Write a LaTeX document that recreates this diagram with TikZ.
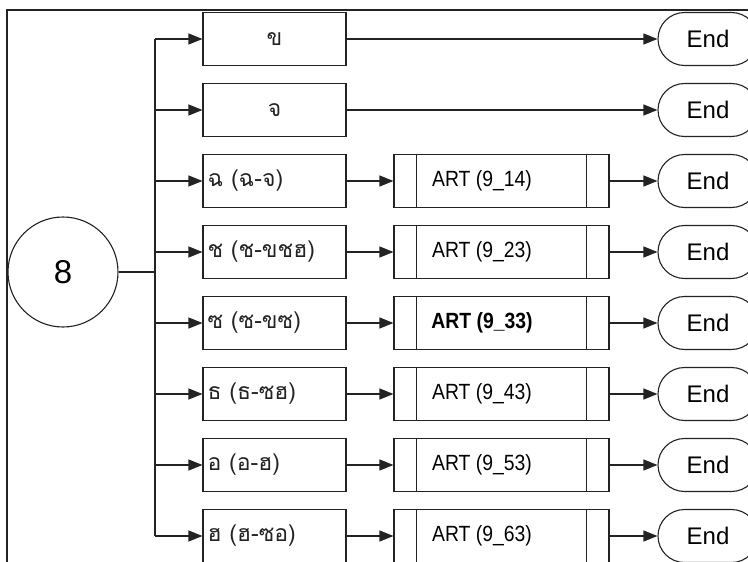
\documentclass[tikz,border=0pt]{standalone}
\usepackage{fontspec}
\setmainfont{Liberation Sans}
\newfontfamily\thaifont[Script=Thai]{Loma}
\usetikzlibrary{arrows.meta,shapes.misc}
\definecolor{ink}{RGB}{35,35,35}
\tikzset{
  line/.style={draw=ink, line width=1.1pt},
  arr/.style={line, -{Triangle[length=14pt,width=11pt]}},
  rowbox/.style={line, rectangle, minimum width=143pt, minimum height=53pt, inner sep=0pt},
  artbox/.style={line, rectangle, minimum width=215pt, minimum height=53pt, inner sep=0pt},
  arttext/.style={inner sep=0pt, font=\fontsize{22}{24}\selectfont},
  endbox/.style={line, rounded rectangle, minimum width=100pt, minimum height=53pt, inner sep=0pt, font=\fontsize{24}{26}\selectfont},
  thfont/.style={font=\thaifont\fontsize{23}{26}\selectfont, inner sep=0pt, text=ink},
  thtext/.style={thfont, anchor=west},
}
\newcommand{\artlabel}[1]{\scalebox{0.88}[1]{#1}}
\begin{document}
\begin{tikzpicture}[x=1pt,y=-1pt]
\useasboundingbox (0,0) rectangle (748,562);
\clip (0,0) rectangle (748,562);
% outer frame
\draw[line] (7,580) -- (7,10) -- (770,10);
% start circle
\node[line, circle, minimum size=110pt, inner sep=0pt, font=\fontsize{33}{36}\selectfont] (c) at (63,272) {8};
\coordinate (tr) at (155,272);
\coordinate (tt) at (155,39);
\coordinate (tb) at (155,536);
\draw[line] (c.east) -- (tr);
\draw[line] (tt) -- (tb);
% row boxes
\foreach \i/\y in {1/39,2/110,3/181,4/252,5/323,6/394,7/465,8/536}{
  \node[rowbox] (r\i) at (274.5,\y) {};
  \node[endbox] (e\i) at (708,\y) {End};
  \coordinate (t\i) at (155,\y);
  \draw[arr] (t\i) -- (r\i.west);
}
\node[thfont] at (r1) {ข};
\node[thfont] at (r2) {จ};
\node[thtext] at ([xshift=5pt]r3.west) {ฉ (ฉ-จ)};
\node[thtext] at ([xshift=5pt]r4.west) {ช (ช-ขชฮ)};
\node[thtext] at ([xshift=5pt]r5.west) {ซ (ซ-ขซ)};
\node[thtext] at ([xshift=5pt]r6.west) {ธ (ธ-ซฮ)};
\node[thtext] at ([xshift=5pt]r7.west) {อ (อ-ฮ)};
\node[thtext] at ([xshift=5pt]r8.west) {ฮ (ฮ-ซอ)};
\draw[arr] (r1.east) -- (e1.west);
\draw[arr] (r2.east) -- (e2.west);
% ART boxes
\foreach \i/\y/\t in {3/181/ART (9\_14),4/252/ART (9\_23),6/394/ART (9\_43),7/465/ART (9\_53),8/536/ART (9\_63)}{
  \node[artbox] (a\i) at (501.5,\y) {};
  \node[arttext] at (482,\y) {\artlabel{\t}};
}
\node[artbox] (a5) at (501.5,323) {};
\node[arttext, font=\fontsize{22}{24}\selectfont\bfseries] at (482,323) {\artlabel{ART (9\_33)}};
\foreach \i in {3,4,5,6,7,8}{
  \draw[line] ([xshift=23pt]a\i.north west) -- ([xshift=23pt]a\i.south west);
  \draw[line] ([xshift=-23pt]a\i.north east) -- ([xshift=-23pt]a\i.south east);
  \draw[arr] (r\i.east) -- (a\i.west);
  \draw[arr] (a\i.east) -- (e\i.west);
}
\end{tikzpicture}
\end{document}
